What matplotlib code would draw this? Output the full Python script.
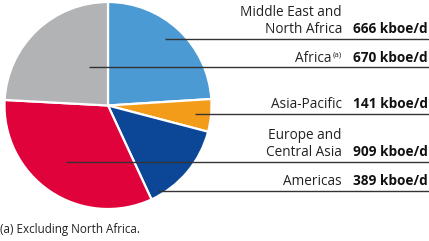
import numpy as np
import matplotlib.pyplot as plt

# label order (top to bottom on the right)
regions = ['Middle East and\nNorth Africa', 'Africa', 'Asia-Pacific',
           'Europe and\nCentral Asia', 'Americas']
notes = ['', '(a)', '', '', '']
values = [666, 670, 141, 909, 389]
unit = 'kboe/d'
footnote = '(a) Excluding North Africa.'

# order of wedges, clockwise from 12 o'clock
pie_order = [0, 2, 4, 3, 1]
colors = {0: '#4b9ad3', 1: '#b2b3b5', 2: '#f39c1a', 3: '#e0023a', 4: '#0b4796'}

W, H = 429, 241
fig = plt.figure(figsize=(W / 100, H / 100), dpi=100)
ax = fig.add_axes([0, 0, 1, 1])

def fy(y):
    return H - y

cx, cy, rad = 108, 105.5, 103.5
ax.pie([values[i] for i in pie_order],
       colors=[colors[i] for i in pie_order],
       startangle=90, counterclock=False,
       center=(cx, fy(cy)), radius=rad, frame=True,
       wedgeprops=dict(edgecolor='white', linewidth=1.6))
ax.set_xlim(0, W)
ax.set_ylim(0, H)
ax.set_aspect('equal')
ax.axis('off')

# leader lines: y of line, x where it starts inside the wedge
line_y = [38.5, 67, 113.5, 162, 190.5]
line_x0 = [165, 89, 195, 66, 158]
name_x, value_x = 342, 353

for i, name in enumerate(regions):
    ly = line_y[i]
    ax.plot([line_x0[i], W], [fy(ly), fy(ly)], color='#333333', lw=1.0,
            solid_capstyle='butt')
    nx = name_x
    if notes[i]:
        ax.text(name_x, fy(ly - 10), notes[i], ha='right', va='baseline',
                fontsize=5.8, family='Open Sans', color='#222222')
        nx = name_x - 10.5
    ax.text(nx, fy(ly - 5.5), name, ha='right', va='baseline',
            fontsize=9.8, family='Open Sans', color='#222222',
            linespacing=1.2)
    ax.text(value_x, fy(ly - 5.5), f'{values[i]} {unit}', ha='left',
            va='baseline', fontsize=9.8, family='Open Sans',
            fontweight='bold', color='#111111')

ax.text(0, fy(233.5), footnote, ha='left', va='baseline',
        fontsize=8.4, family='Open Sans', color='#222222')

fig.savefig('out.png', dpi=100)
